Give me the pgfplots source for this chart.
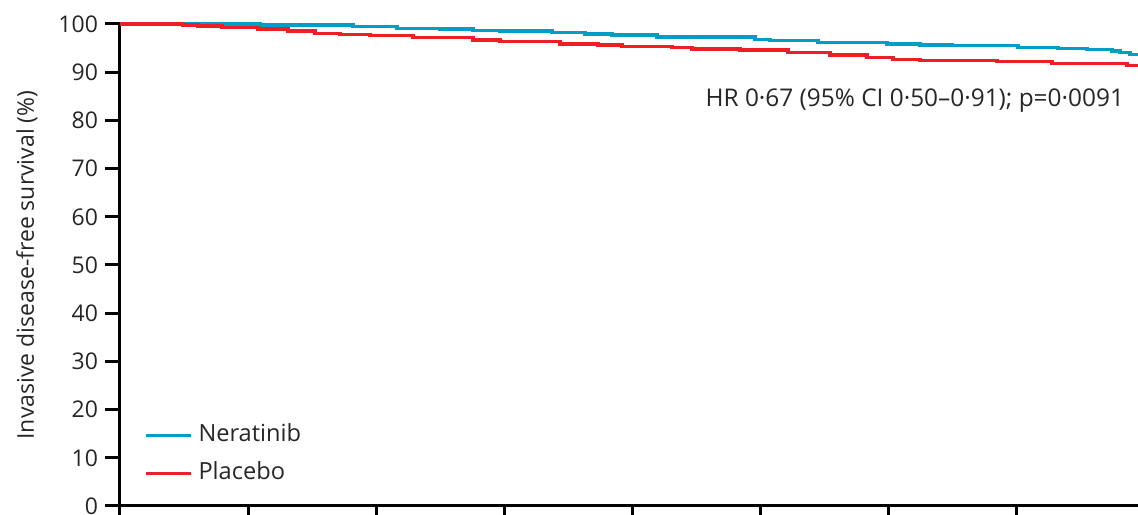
\documentclass[border=0pt]{standalone}
\usepackage{fontspec}
\setmainfont{Open Sans}
\usepackage{pgfplots}
\usepackage{pgfplotstable}
\pgfplotsset{compat=1.18}
\definecolor{nera}{RGB}{0,158,198}
\definecolor{plac}{RGB}{237,30,36}
\pgfplotstableread{
x y
0 100
0.688 100
1.094 99.79
1.820 99.44
2.164 99.11
2.500 98.96
2.758 98.69
2.969 98.55
3.375 98.28
3.633 97.93
3.844 97.72
4.195 97.30
4.961 96.83
5.078 96.54
5.453 96.12
5.992 95.85
6.250 95.64
6.500 95.50
7.016 95.17
7.328 94.96
7.555 94.67
7.750 94.40
7.813 94.05
7.891 93.71
7.953 93.71
}\nera
\pgfplotstableread{
x y
0 100
0.492 99.79
0.609 99.59
0.797 99.23
1.078 98.96
1.313 98.55
1.523 98.07
1.719 97.86
1.953 97.57
2.289 97.16
2.758 96.68
2.969 96.33
3.438 95.85
3.734 95.64
3.922 95.29
4.313 95.08
4.469 94.81
4.844 94.61
5.219 94.13
5.547 93.57
5.836 93.09
6.039 92.68
6.250 92.47
6.852 92.18
7.281 91.85
7.867 91.35
7.953 91.35
}\plac
\begin{document}
\begin{tikzpicture}
\begin{axis}[
  name=ax,
  scale only axis, width=509pt, height=241pt,
  xmin=0, xmax=7.953, ymin=0, ymax=100,
  axis x line*=bottom, axis y line*=left,
  axis line style={line width=1.5pt, black},
  xtick={0,...,7}, xticklabels={},
  ytick={0,10,...,100},
  tick align=outside, major tick length=7.5pt,
  every tick/.style={line width=1.5pt, black},
  tick label style={font=\fontsize{11.5}{13}\selectfont, text=black!85},
  /pgf/number format/assume math mode=true,
  ylabel={Invasive disease-free survival (\%)},
  ylabel style={at={(axis description cs:-0.0914,0.5)}, anchor=center, font=\fontsize{11.5}{13}\selectfont, text=black!85},
  clip=false,
  legend image code/.code={\draw[#1] (0pt,0pt) -- (22.5pt,0pt);},
  legend style={draw=none, fill=none, at={(rel axis cs:0.0235,0.107)}, anchor=west,
    font=\fontsize{11.8}{13}\selectfont, inner sep=0pt, row sep=8pt,
    nodes={inner sep=0pt, text height=8.5pt, text depth=2.5pt, text=black!85}},
  legend cell align=left,
]
\addplot[const plot, color=nera, line width=1.6pt] table[x=x,y=y] {\nera};
\addlegendentry{\hspace{3pt}Neratinib}
\addplot[const plot, color=plac, line width=1.6pt] table[x=x,y=y] {\plac};
\addlegendentry{\hspace{3pt}Placebo}
\node[anchor=east, font=\fontsize{12.2}{14}\selectfont, text=black!85] at (axis cs:7.898,84.2) {HR 0·67 (95\% CI 0·50–0·91); p=0·0091};
\end{axis}
\pgfresetboundingbox
\path[use as bounding box] ([xshift=-60pt,yshift=-4.5pt]ax.south west) rectangle ([yshift=12pt]ax.north east);
\end{tikzpicture}
\end{document}
